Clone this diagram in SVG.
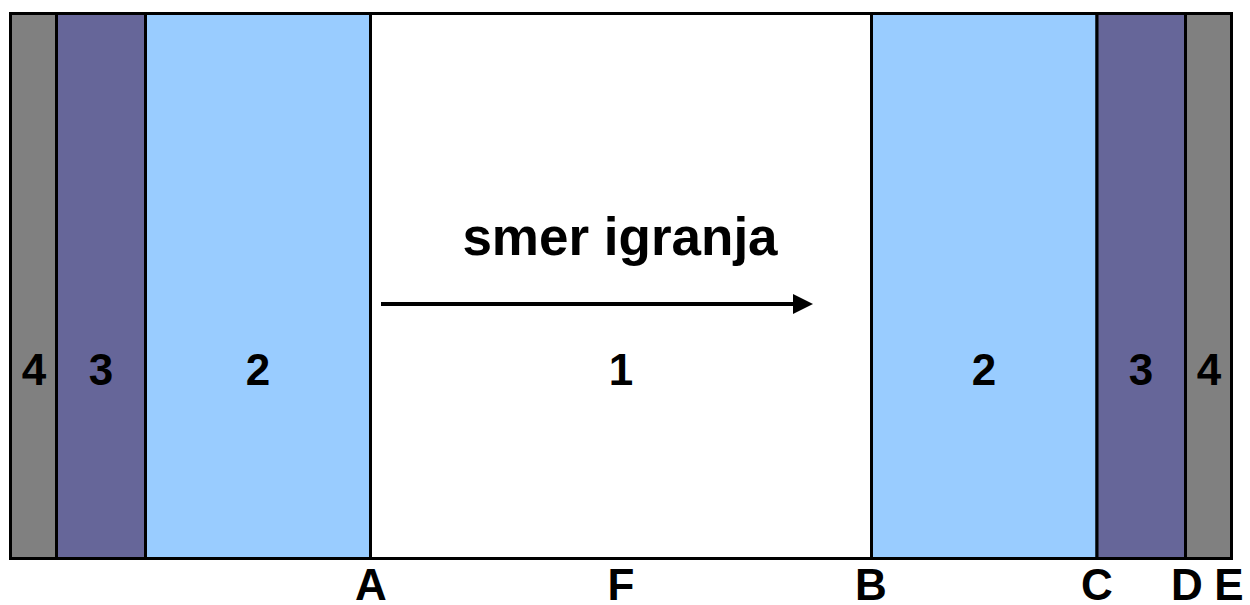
<svg xmlns="http://www.w3.org/2000/svg" width="1250" height="605" viewBox="0 0 1250 605">
<style>
.z{stroke:#000;stroke-width:3}
.g{fill:#808080}.p{fill:#666699}.b{fill:#99CCFF}.w{fill:#FFFFFF}
.t{font-family:"Liberation Sans",Arial,sans-serif;font-weight:bold;font-size:44px;fill:#000;text-anchor:middle}
</style>
<defs>
<marker id="ah" markerWidth="5" markerHeight="5" refX="4" refY="2.5" orient="auto" markerUnits="strokeWidth">
<path d="M0,0 L5,2.5 L0,5 Z" fill="#000"/>
</marker>
</defs>
<rect width="1250" height="605" fill="#fff"/>
<g id="zone-4-left"><rect class="z g" x="10.5" y="13.5" width="46" height="545"/><text class="t" x="34" y="385">4</text></g>
<g id="zone-3-left"><rect class="z p" x="56.5" y="13.5" width="89" height="545"/><text class="t" x="101" y="385">3</text></g>
<g id="zone-2-left"><rect class="z b" x="145.5" y="13.5" width="225" height="545"/><text class="t" x="258" y="385">2</text></g>
<g id="zone-1"><rect class="z w" x="370.5" y="13.5" width="501" height="545"/><text class="t" x="621" y="385">1</text></g>
<g id="zone-2-right"><rect class="z b" x="871.5" y="13.5" width="225.5" height="545"/><text class="t" x="984" y="385">2</text></g>
<g id="zone-3-right"><rect class="z p" x="1097" y="13.5" width="88.5" height="545"/><text class="t" x="1141" y="385">3</text></g>
<g id="zone-4-right"><rect class="z g" x="1185.5" y="13.5" width="46" height="545"/><text class="t" x="1209" y="385">4</text></g>
<g id="connectors">
<line x1="381" y1="304" x2="809" y2="304" stroke="#000" stroke-width="4" marker-end="url(#ah)"/>
</g>
<g id="direction-label"><text class="t" x="620" y="255" style="font-size:53px">smer igranja</text></g>
<g id="axis-labels">
<text class="t" x="371" y="600">A</text>
<text class="t" x="621" y="600">F</text>
<text class="t" x="871" y="600">B</text>
<text class="t" x="1097" y="600">C</text>
<text class="t" x="1187" y="600">D</text>
<text class="t" x="1229" y="600">E</text>
</g>
</svg>
